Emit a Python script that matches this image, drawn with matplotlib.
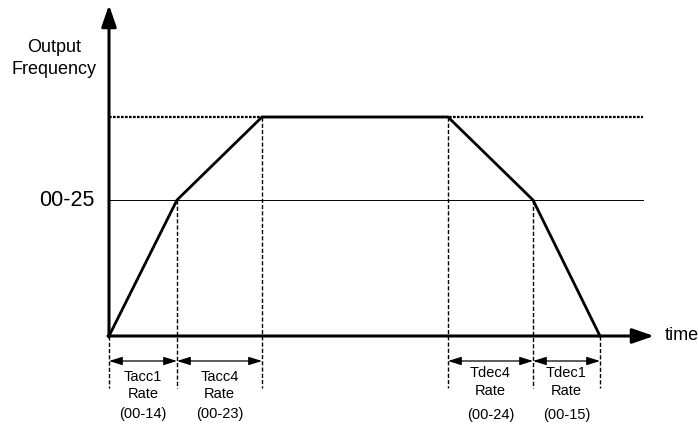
import matplotlib.pyplot as plt

plt.rcParams['font.family'] = ['Liberation Sans', 'DejaVu Sans']

# profile break points (time, frequency), units ~ pixels from origin
t_pts = [0, 68, 153, 339, 424, 491]
f_pts = [0, 136, 219, 219, 136, 0]
f_mid = 136
f_top = 219

seg_names = ['Tacc1', 'Tacc4', 'Tdec4', 'Tdec1']
seg_params = ['(00-14)', '(00-23)', '(00-24)', '(00-15)']
seg_bounds = [(0, 68), (68, 153), (339, 424), (424, 491)]
# label line heights (name, "Rate", parameter) for accel / decel groups
label_rows = [(-41, -58, -78), (-41, -58, -78), (-37, -55, -79), (-37, -55, -79)]

fig = plt.figure(figsize=(6.98, 4.24), dpi=100)
ax = fig.add_axes([0, 0, 1, 1])
ax.set_xlim(-109, 589)
ax.set_ylim(-88, 336)
ax.axis('off')

# reference levels
ax.plot([0, 534], [f_top, f_top], color='black', lw=1.6, ls=(0, (1.2, 0.6)))
ax.plot([0, 534], [f_mid, f_mid], color='black', lw=0.7)

# vertical dashed guides
guides = [(0, 0), (68, f_mid), (153, f_top), (339, f_top), (424, f_mid), (491, 0)]
for x, ytop in guides:
    ax.plot([x, x], [ytop, -52], color='black', lw=1.0, ls=(0, (3, 1.5)))

# axes with arrows
ax.annotate('', xy=(0, 331), xytext=(0, -1),
            arrowprops=dict(arrowstyle='-|>,head_length=1.3,head_width=0.45',
                            color='black', lw=2.2, shrinkA=0, shrinkB=0))
ax.annotate('', xy=(545, 0), xytext=(-1, 0),
            arrowprops=dict(arrowstyle='-|>,head_length=1.3,head_width=0.45',
                            color='black', lw=2.2, shrinkA=0, shrinkB=0))

# frequency profile
ax.plot(t_pts, f_pts, color='black', lw=2.0, solid_joinstyle='miter')

# segment arrows and labels
for (a, b), name, par, rows in zip(seg_bounds, seg_names, seg_params, label_rows):
    ax.annotate('', xy=(b, -25), xytext=(a, -25),
                arrowprops=dict(arrowstyle='<|-|>,head_length=0.8,head_width=0.25',
                                color='black', lw=0.9, shrinkA=0, shrinkB=0))
    xc = (a + b) / 2
    ax.text(xc, rows[0], name, ha='center', va='center', fontsize=10.5)
    ax.text(xc, rows[1], 'Rate', ha='center', va='center', fontsize=10.5)
    ax.text(xc, rows[2], par, ha='center', va='center', fontsize=10.5)

ax.text(-55, 289, 'Output', ha='center', va='center', fontsize=13)
ax.text(-55, 266, 'Frequency', ha='center', va='center', fontsize=13)
ax.text(-14, f_mid, '00-25', ha='right', va='center', fontsize=15.5)
ax.text(556, 0, 'time', ha='left', va='center', fontsize=13)

fig.savefig('out.png', dpi=100)
